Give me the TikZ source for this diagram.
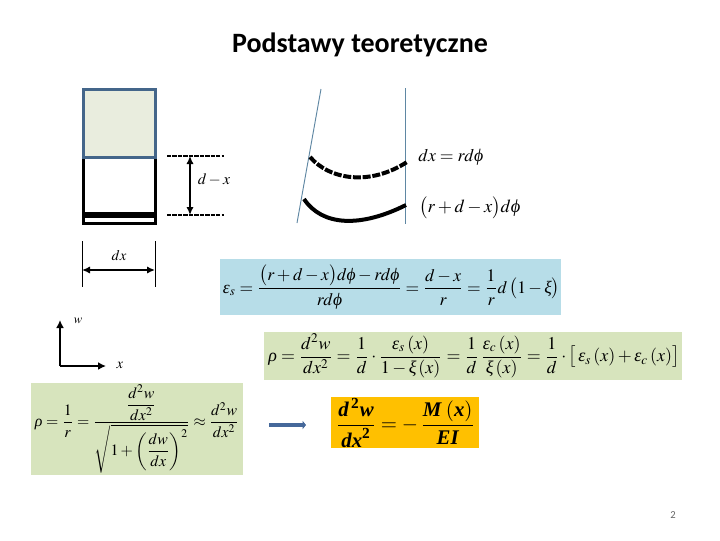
\documentclass[tikz,border=0pt]{standalone}
\usepackage{amsmath}
\usepackage{mathptmx}
\usepackage{fontspec}
\setmainfont{Carlito}
\newfontfamily\ser{Liberation Serif}
\usetikzlibrary{arrows.meta}
\definecolor{beamblue}{HTML}{44668A}
\definecolor{beamfill}{HTML}{E9EDDE}
\definecolor{slant}{HTML}{5F87A3}
\definecolor{eqblue}{HTML}{B7DDE8}
\definecolor{eqgreen}{HTML}{D7E4BD}
\definecolor{eqyellow}{HTML}{FFC000}
\definecolor{arrowblue}{HTML}{45689A}
\tikzset{
  px/.style={x=0.75pt,y=-0.75pt},
  eqtext/.style={inner sep=0pt,anchor=center},
  small/.style={inner sep=0pt,font=\fontsize{9.5}{11}\selectfont},
  dimline/.style={line width=0.75pt,black},
  dimarrow/.style={line width=1.3pt,black,{Latex[length=6pt,width=5.5pt]}-{Latex[length=6pt,width=5.5pt]}},
  dashline/.style={line width=1.9pt,black,dash pattern=on 3.2pt off 0.9pt}
}
\newcommand{\eqw}[2]{\resizebox{#1\dimexpr0.75pt\relax}{!}{$\displaystyle #2$}}
\newcommand{\gk}[1]{\text{\ser\itshape #1}}
\newcommand{\bi}[1]{\text{\ser\bfseries\itshape #1}}
\newcommand{\bu}[1]{\text{\ser\bfseries #1}}
\begin{document}
\begin{tikzpicture}[px]
\useasboundingbox (0,0) rectangle (720,540);
\fill[white] (0,0) rectangle (720,540);
\node[inner sep=0pt,font=\fontsize{21}{25}\selectfont\bfseries] (title) at (360,45) {Podstawy teoretyczne};

% beam element
\draw[black,line width=2.25pt,fill=white] (83,157) rectangle (155,223);
\fill[black] (82,212) rectangle (156,218);
\draw[beamblue,line width=2.25pt,fill=beamfill] (83,89) rectangle (155,157);

% d-x dimension
\coordinate (t1) at (167,156); \coordinate (t2) at (224,156);
\coordinate (b1) at (167,215); \coordinate (b2) at (224,215);
\coordinate (dxt) at (190,156); \coordinate (dxb) at (190,215);
\draw[dashline] (t1) -- (t2);
\draw[dashline] (b1) -- (b2);
\draw[dimarrow] (dxt) -- (dxb);
\node[small,font=\fontsize{11.8}{13}\selectfont] (dmx) at (214,180) {$d-x$};

% dx dimension
\coordinate (l1) at (82,241); \coordinate (l2) at (82,287);
\coordinate (r1) at (155,241); \coordinate (r2) at (155,287);
\coordinate (al) at (82,270); \coordinate (ar) at (155,270);
\draw[dimline] (l1) -- (l2);
\draw[dimline] (r1) -- (r2);
\draw[dimarrow] (al) -- (ar);
\node[small,font=\fontsize{11}{13}\selectfont] (dxl) at (119,256) {$dx$};

% bent element
\coordinate (s1) at (321,89); \coordinate (s2) at (297,223);
\coordinate (v1) at (405,88); \coordinate (v2) at (405,224);
\draw[slant,line width=0.7pt] (s1) -- (s2);
\draw[slant,line width=0.7pt] (v1) -- (v2);
\draw[black,line width=3pt,dash pattern=on 6pt off 1.3pt] (310,157) .. controls (330,180) and (370,186) .. (407,162);
\draw[black,line width=3pt] (304,199) .. controls (322,226) and (360,228) .. (406,205);
\node[inner sep=0pt,anchor=west] (l1eq) at (418,157) {\eqw{65}{dx=rd\gk{ϕ}}};
\node[inner sep=0pt,anchor=west] (l2eq) at (419,208) {\eqw{101}{\bigl(r+d-x\bigr)d\gk{ϕ}}};

% strain
\fill[eqblue] (220,259) rectangle (561,315);
\node[eqtext] (eq1) at (391.5,287) {\eqw{337}{\gk{ε}_s=\frac{\bigl(r+d-x\bigr)d\gk{ϕ}-rd\gk{ϕ}}{rd\gk{ϕ}}=\frac{d-x}{r}=\frac{1}{r}d\,\bigl(1-\gk{ξ}\bigr)}};

% curvature
\fill[eqgreen] (264,332) rectangle (682,380);
\node[eqtext] (eq2) at (474,356) {\eqw{411}{\gk{ρ}=\frac{d^2w}{dx^2}=\frac{1}{d}\cdot\frac{\gk{ε}_s\left(x\right)}{1-\gk{ξ}\left(x\right)}=\frac{1}{d}\,\frac{\gk{ε}_c\left(x\right)}{\gk{ξ}\left(x\right)}=\frac{1}{d}\cdot\bigl[\,\gk{ε}_s\left(x\right)+\gk{ε}_c\left(x\right)\bigr]}};

% axes
\coordinate (o) at (60,366); \coordinate (wend) at (60,320); \coordinate (xend) at (106,366);
\draw[black,line width=1.5pt,-{Latex[length=6pt,width=6pt]}] (o) -- (wend);
\draw[black,line width=1.5pt,-{Latex[length=6pt,width=6pt]}] (o) -- (xend);
\node[small] (wl) at (78,321) {$w$};
\node[small,font=\fontsize{11}{13}\selectfont] (xl) at (120,365) {$x$};

% exact curvature
\fill[eqgreen] (31,383) rectangle (243,475);
\node[eqtext] (eq3) at (137,429) {\eqw{204}{\gk{ρ}=\frac{1}{r}=\frac{\dfrac{d^2w}{dx^2}}{\sqrt{1+\left(\dfrac{dw}{dx}\right)^{2}}}\approx\frac{d^2w}{dx^2}}};

% result
\coordinate (a1) at (269,425); \coordinate (a2) at (306,425);
\draw[arrowblue,line width=3.3pt,-{Triangle[length=2.5pt,width=6pt]}] (a1) -- (a2);
\fill[eqyellow] (331,397) rectangle (479,448);
\node[eqtext] (eq4) at (405.5,423) {\eqw{139}{\frac{\bi{d}\,^{\bu{2}}\bi{w}}{\bi{dx}^{\bu{2}}}=-\,\frac{\bi{M}\,\left(\bi{x}\right)}{\bi{EI}}}};

\node[inner sep=0pt,font=\fontsize{8}{10}\selectfont,text=black!60] (pg) at (673,515) {2};
\end{tikzpicture}
\end{document}
